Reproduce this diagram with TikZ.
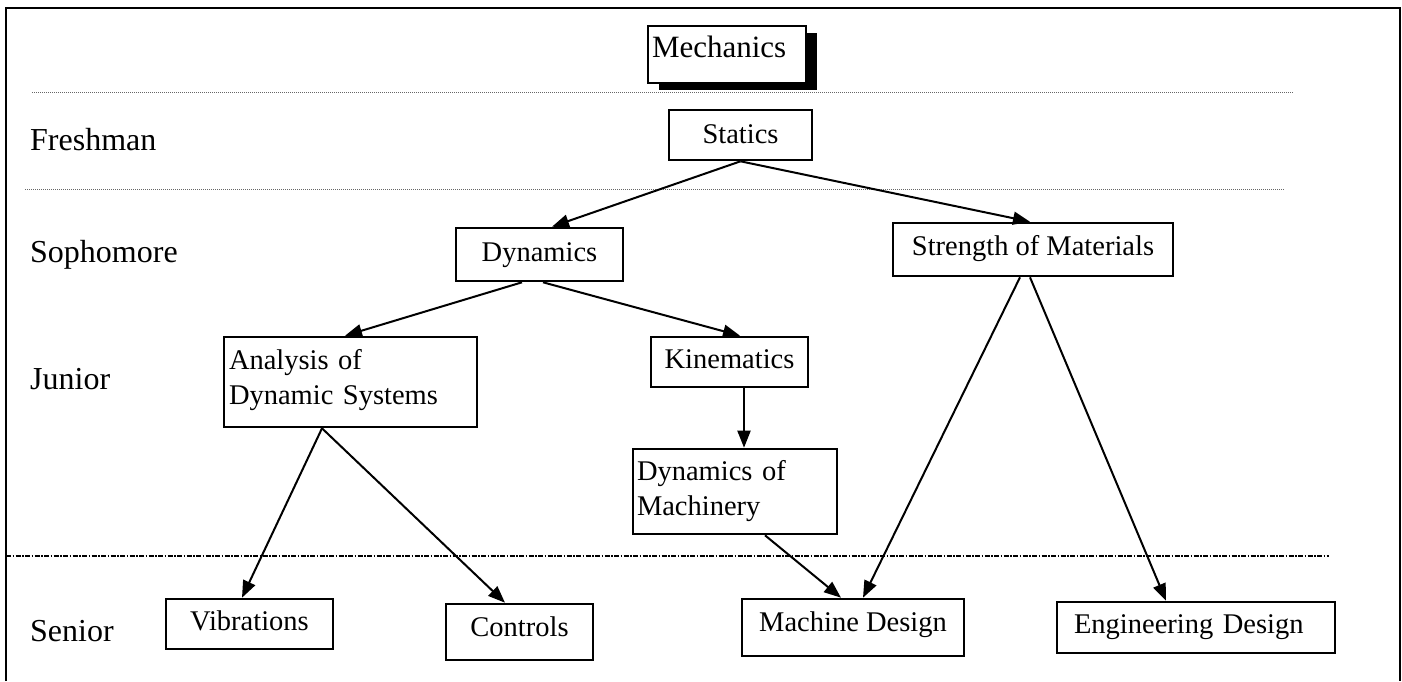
\documentclass[tikz,border=0pt]{standalone}
\usepackage{fontspec}
\setmainfont{Liberation Serif}
\usetikzlibrary{arrows.meta,shadows}

\begin{document}
\begin{tikzpicture}[x=1pt,y=-1pt,
  course/.style={draw, line width=2.6pt, fill=white, inner xsep=0pt, inner ysep=0pt,
    font=\fontsize{28.5}{35}\selectfont, align=center},
  leftbox/.style={align=left},
  yearlbl/.style={anchor=base west, inner sep=0pt, font=\fontsize{32}{38}\selectfont},
  prereq/.style={line width=2pt, -{Triangle[length=17pt,width=13pt]}},
  divider/.style={line width=1pt, black!60, dash pattern=on 1pt off 1pt},
  senior divider/.style={line width=1.6pt, dash pattern=on 5pt off 1.5pt on 1.5pt off 1.5pt},
]
\useasboundingbox (0,0) rectangle (1402,681);

% outer frame, open at the bottom
\draw[line width=2.8pt] (6,681) -- (6,8) -- (1400,8) -- (1400,681);

% separators between the years
\draw[divider] (32,92) -- (1293,92);
\draw[divider] (25,189) -- (1285,189);
\draw[senior divider] (6,556) -- (1329,556);

% year labels
\node[yearlbl] (fr) at (30,150) {Freshman};
\node[yearlbl] (so) at (30,262) {Sophomore};
\node[yearlbl] (jr) at (30,389) {Junior};
\node[yearlbl] (sr) at (30,641) {Senior};

% title box with a solid shadow
\node[course, leftbox, inner xsep=4pt, text width=150pt, text height=31pt, text depth=26pt,
  font=\fontsize{31}{36}\selectfont,
  drop shadow={shadow xshift=11pt, shadow yshift=-7pt, fill=black, opacity=1}]
  (mech) at (727,54.5) {Mechanics};

% courses
\node[course, minimum width=143pt, text height=33pt, text depth=17pt] (statics) at (740.5,135) {Statics};
\node[course, minimum width=167pt, text height=33pt, text depth=20pt] (dyn) at (539.5,254.5) {Dynamics};
\node[course, minimum width=280pt, text height=32pt, text depth=21pt] (strength) at (1033,249.5) {Strength of Materials};
\node[course, minimum width=157pt, text height=31pt, text depth=19pt] (kin) at (729.5,362) {Kinematics};
\node[course, leftbox, inner xsep=5pt, text width=243pt, text height=32pt, text depth=58pt]
  (analysis) at (350.5,382) {Analysis of\\Dynamic Systems};
\node[course, leftbox, inner xsep=4pt, text width=196pt, text height=31pt, text depth=54pt]
  (dynmach) at (735,491.5) {Dynamics of\\Machinery};
\node[course, minimum width=167pt, text height=31pt, text depth=19pt] (vib) at (249.5,624) {Vibrations};
\node[course, minimum width=147pt, text height=32pt, text depth=24pt] (ctrl) at (519.5,632) {Controls};
\node[course, minimum width=222pt, text height=32pt, text depth=25pt] (md) at (853,627.5) {Machine Design};
\node[course, leftbox, inner xsep=17pt, text width=244pt, text height=31pt, text depth=20pt]
  (ed) at (1196,627.5) {Engineering Design};

% prerequisite arrows
\draw[prereq] (statics.south) -- ([xshift=12.5pt]dyn.north);
\draw[prereq] (statics.south) -- ([xshift=-3pt]strength.north);
\draw[prereq] ([xshift=-17.5pt]dyn.south) -- ([xshift=-5.5pt]analysis.north);
\draw[prereq] ([xshift=3.5pt]dyn.south) -- ([xshift=10.5pt]kin.north);
\draw[prereq] ([xshift=14.5pt]kin.south) -- ([xshift=9pt]dynmach.north);
\draw[prereq] ([xshift=-28.5pt]analysis.south) -- ([xshift=-7.5pt]vib.north);
\draw[prereq] ([xshift=-28.5pt]analysis.south) -- ([xshift=-14.5pt]ctrl.north);
\draw[prereq] ([xshift=30pt]dynmach.south) -- ([xshift=-12pt]md.north);
\draw[prereq] ([xshift=-13pt]strength.south) -- ([xshift=10pt]md.north);
\draw[prereq] ([xshift=-3pt]strength.south) -- ([xshift=-30pt]ed.north);
\end{tikzpicture}
\end{document}
